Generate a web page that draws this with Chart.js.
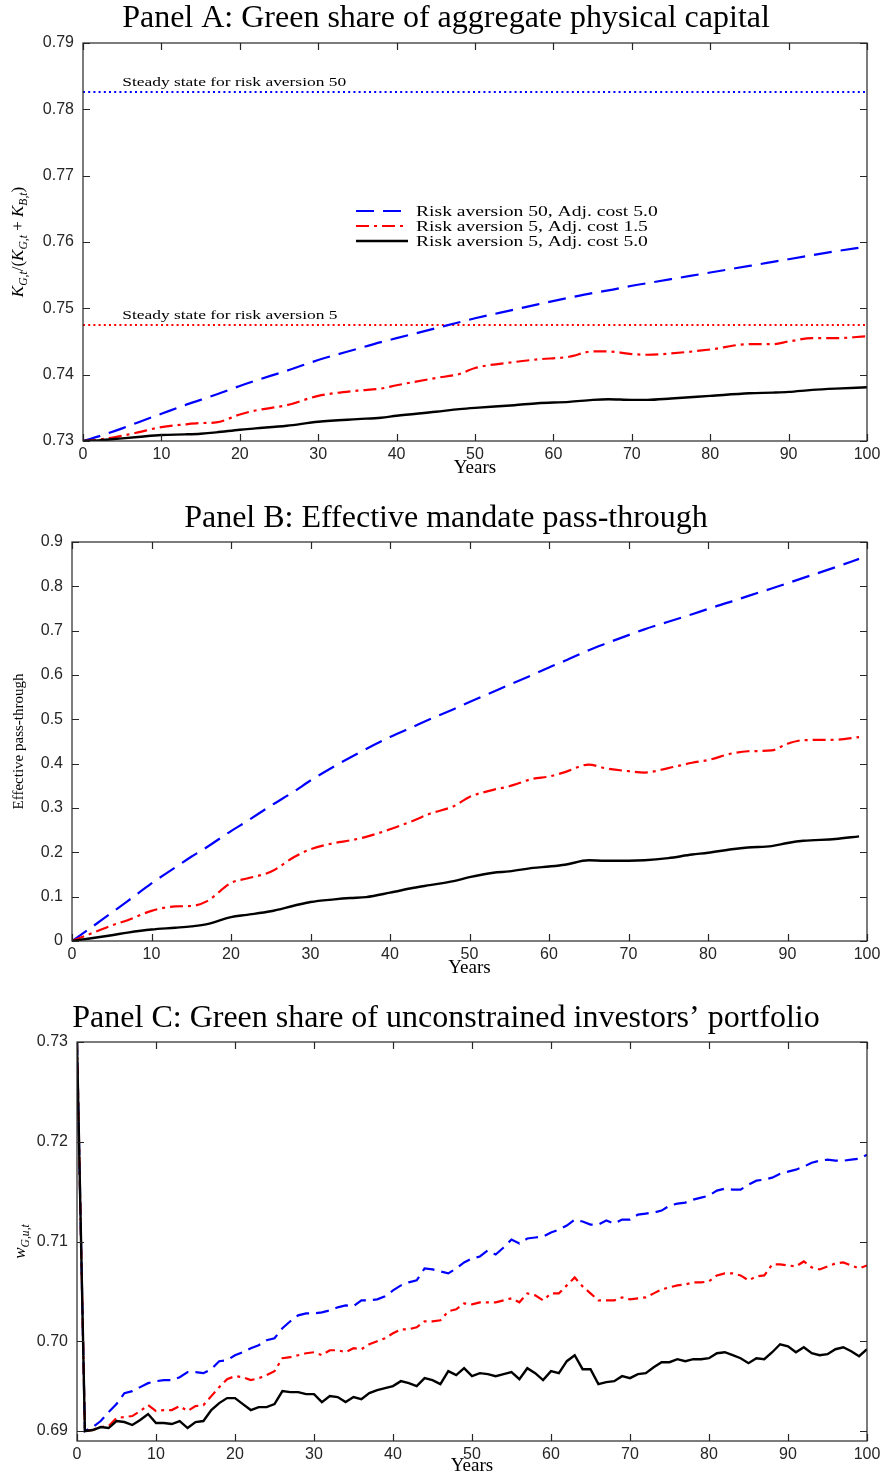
<!DOCTYPE html>
<html>
<head>
<meta charset="utf-8">
<script src="https://cdn.jsdelivr.net/npm/chart.js@4.4.0/dist/chart.umd.min.js"></script>
<style>
  body { margin: 0; background: #fff; }
  .panel { position: absolute; left: 0; width: 883px; }
</style>
</head>
<body>
<div class="panel" style="top:0;height:490px"><canvas id="chartA"></canvas></div>
<div class="panel" style="top:490px;height:500px"><canvas id="chartB"></canvas></div>
<div class="panel" style="top:990px;height:486px"><canvas id="chartC"></canvas></div>
<script>
// Series names (same three calibrations in every panel)
const seriesLabels = [
  'Risk aversion 50, Adj. cost 5.0',
  'Risk aversion 5, Adj. cost 1.5',
  'Risk aversion 5, Adj. cost 5.0'
];
const yearTicks = [0, 10, 20, 30, 40, 50, 60, 70, 80, 90, 100];

// Panel A: green share of aggregate physical capital
const yearsA = [0, 2, 5, 7, 10, 13, 15, 17, 20, 22, 26, 30, 35, 38, 40, 45, 48, 50, 55, 58, 62, 65, 67, 70, 72, 75, 80, 85, 88, 90, 93, 96, 100];
const capitalRA50 = [0.73, 0.7307, 0.7319, 0.7328, 0.7341, 0.7354, 0.7362, 0.737, 0.7383, 0.7391, 0.7406, 0.7422, 0.7439, 0.7449, 0.7455, 0.747, 0.7479, 0.7485, 0.7498, 0.7506, 0.7516, 0.7523, 0.7527, 0.7534, 0.7538, 0.7544, 0.7554, 0.7564, 0.757, 0.7574, 0.758, 0.7586, 0.7593];
const capitalCost15 = [0.73, 0.7302, 0.7308, 0.7313, 0.7321, 0.7325, 0.7327, 0.7328, 0.734, 0.7346, 0.7354, 0.7368, 0.7376, 0.7379, 0.7384, 0.7395, 0.7401, 0.741, 0.7419, 0.7423, 0.7427, 0.7435, 0.7435, 0.7431, 0.743, 0.7432, 0.7438, 0.7446, 0.7446, 0.745, 0.7455, 0.7455, 0.7458];
const capitalCost5 = [0.73, 0.7301, 0.7304, 0.7306, 0.7309, 0.731, 0.7311, 0.7313, 0.7317, 0.7319, 0.7323, 0.7329, 0.7333, 0.7335, 0.7338, 0.7344, 0.7348, 0.735, 0.7354, 0.7357, 0.7359, 0.7362, 0.7363, 0.7362, 0.7362, 0.7364, 0.7368, 0.7372, 0.7373, 0.7374, 0.7377, 0.7379, 0.7381];
const steadyRA50 = 0.7826;
const steadyRA5 = 0.7475;
const ticksA = [0.73, 0.74, 0.75, 0.76, 0.77, 0.78, 0.79];

// Panel B: effective mandate pass-through
const yearsB = [0, 2, 5, 7, 10, 13, 15, 17, 20, 22, 25, 28, 30, 33, 35, 37, 40, 43, 45, 48, 50, 53, 55, 58, 60, 62, 65, 67, 70, 72, 75, 78, 80, 83, 85, 88, 90, 92, 96, 99];
const passRA50 = [0, 0.025, 0.064, 0.09, 0.13, 0.166, 0.19, 0.212, 0.248, 0.27, 0.305, 0.338, 0.362, 0.394, 0.414, 0.433, 0.46, 0.484, 0.5, 0.523, 0.539, 0.562, 0.578, 0.601, 0.617, 0.632, 0.656, 0.67, 0.69, 0.703, 0.72, 0.737, 0.749, 0.766, 0.778, 0.795, 0.807, 0.819, 0.843, 0.862];
const passCost15 = [0, 0.014, 0.035, 0.047, 0.068, 0.078, 0.079, 0.09, 0.131, 0.141, 0.156, 0.19, 0.207, 0.221, 0.227, 0.235, 0.252, 0.272, 0.287, 0.304, 0.325, 0.341, 0.349, 0.366, 0.371, 0.381, 0.398, 0.39, 0.383, 0.38, 0.39, 0.402, 0.408, 0.423, 0.428, 0.43, 0.445, 0.453, 0.454, 0.46];
const passCost5 = [0, 0.005, 0.013, 0.019, 0.026, 0.03, 0.033, 0.038, 0.054, 0.059, 0.067, 0.08, 0.088, 0.094, 0.097, 0.099, 0.109, 0.12, 0.126, 0.135, 0.144, 0.154, 0.157, 0.165, 0.168, 0.172, 0.182, 0.181, 0.181, 0.182, 0.187, 0.195, 0.199, 0.207, 0.211, 0.214, 0.221, 0.226, 0.23, 0.236];
const ticksB = [0, 0.1, 0.2, 0.3, 0.4, 0.5, 0.6, 0.7, 0.8, 0.9];

// Panel C: green share of unconstrained investors' portfolio, one value per year
const yearsC = Array.from({ length: 101 }, (_, i) => i);
const portfolioRA50 = [0.73,
  0.6910, 0.6914, 0.6920, 0.6929, 0.6937, 0.6948, 0.6950, 0.6954, 0.6958, 0.6960,
  0.6961, 0.6961, 0.6964, 0.6969, 0.6969, 0.6968, 0.6972, 0.6980, 0.6981, 0.6986,
  0.6989, 0.6993, 0.6996, 0.7001, 0.7003, 0.7013, 0.7020, 0.7026, 0.7028, 0.7028,
  0.7029, 0.7031, 0.7034, 0.7036, 0.7035, 0.7041, 0.7041, 0.7042, 0.7045, 0.7051,
  0.7056, 0.7059, 0.7061, 0.7073, 0.7072, 0.7070, 0.7068, 0.7073, 0.7079, 0.7083,
  0.7085, 0.7091, 0.7087, 0.7094, 0.7102, 0.7098, 0.7103, 0.7104, 0.7105, 0.7109,
  0.7112, 0.7116, 0.7122, 0.7120, 0.7117, 0.7117, 0.7121, 0.7118, 0.7122, 0.7122,
  0.7127, 0.7128, 0.7129, 0.7131, 0.7136, 0.7138, 0.7139, 0.7142, 0.7144, 0.7146,
  0.7151, 0.7153, 0.7152, 0.7152, 0.7157, 0.7161, 0.7162, 0.7164, 0.7168, 0.7170,
  0.7172, 0.7175, 0.7179, 0.7181, 0.7182, 0.7181, 0.7181, 0.7182, 0.7183, 0.7187];
const portfolioCost15 = [0.73,
  0.6910, 0.6911, 0.6914, 0.6915, 0.6923, 0.6924, 0.6925, 0.6930, 0.6936, 0.6930,
  0.6931, 0.6931, 0.6935, 0.6930, 0.6935, 0.6936, 0.6945, 0.6954, 0.6962, 0.6965,
  0.6964, 0.6961, 0.6963, 0.6966, 0.6970, 0.6983, 0.6984, 0.6986, 0.6988, 0.6989,
  0.6986, 0.6991, 0.6991, 0.6989, 0.6993, 0.6992, 0.6997, 0.7000, 0.7003, 0.7008,
  0.7012, 0.7012, 0.7014, 0.7020, 0.7020, 0.7021, 0.7030, 0.7032, 0.7038, 0.7037,
  0.7039, 0.7039, 0.7039, 0.7041, 0.7043, 0.7039, 0.7048, 0.7046, 0.7041, 0.7048,
  0.7048, 0.7056, 0.7064, 0.7055, 0.7048, 0.7041, 0.7041, 0.7041, 0.7044, 0.7042,
  0.7043, 0.7044, 0.7048, 0.7052, 0.7054, 0.7056, 0.7057, 0.7059, 0.7059, 0.7060,
  0.7066, 0.7068, 0.7068, 0.7066, 0.7061, 0.7065, 0.7066, 0.7077, 0.7077, 0.7076,
  0.7075, 0.7080, 0.7074, 0.7072, 0.7075, 0.7078, 0.7079, 0.7076, 0.7073, 0.7076];
const portfolioCost5 = [0.73,
  0.6910, 0.6911, 0.6914, 0.6913, 0.6920, 0.6919, 0.6916, 0.6921, 0.6927, 0.6918,
  0.6918, 0.6917, 0.6920, 0.6913, 0.6919, 0.6920, 0.6931, 0.6938, 0.6943, 0.6943,
  0.6937, 0.6931, 0.6934, 0.6934, 0.6937, 0.6950, 0.6949, 0.6949, 0.6947, 0.6947,
  0.6939, 0.6945, 0.6944, 0.6939, 0.6944, 0.6942, 0.6948, 0.6951, 0.6953, 0.6955,
  0.6960, 0.6958, 0.6955, 0.6963, 0.6961, 0.6957, 0.6970, 0.6966, 0.6973, 0.6965,
  0.6968, 0.6967, 0.6965, 0.6967, 0.6969, 0.6962, 0.6973, 0.6968, 0.6961, 0.6970,
  0.6968, 0.6980, 0.6986, 0.6972, 0.6972, 0.6957, 0.6959, 0.6960, 0.6965, 0.6963,
  0.6967, 0.6968, 0.6974, 0.6979, 0.6979, 0.6982, 0.6980, 0.6982, 0.6982, 0.6983,
  0.6988, 0.6989, 0.6986, 0.6983, 0.6978, 0.6983, 0.6982, 0.6989, 0.6997, 0.6995,
  0.6989, 0.6994, 0.6988, 0.6986, 0.6987, 0.6992, 0.6994, 0.6990, 0.6985, 0.6992];
const ticksC = [0.691, 0.70, 0.71, 0.72, 0.73];

const serif = '"Liberation Serif", "Times New Roman", serif';
const sans = '"Liberation Sans", Arial, Helvetica, sans-serif';
const axisColor = '#262626';

// line look of each calibration
function styleRA50(dash) { return { borderColor: '#0000ff', borderWidth: 2.2, borderDash: dash }; }
function styleCost15(dash) { return { borderColor: '#ff0000', borderWidth: 2.2, borderDash: dash }; }
function styleCost5() { return { borderColor: '#000000', borderWidth: 2.4, borderDash: [] }; }

function series(xs, ys, label, style, order, smooth) {
  return Object.assign({
    label: label,
    data: xs.map((x, i) => ({ x: x, y: ys[i] })),
    pointRadius: 0,
    fill: false,
    order: order,
    cubicInterpolationMode: smooth ? 'monotone' : 'default',
    tension: 0
  }, style);
}

function flatLine(value, color) {
  return {
    label: 'steady',
    data: [{ x: 0, y: value }, { x: 100, y: value }],
    borderColor: color, borderWidth: 2, borderDash: [2, 3.2],
    pointRadius: 0, fill: false, order: 5
  };
}

function drawText(ctx, text, x, y, font, stretch) {
  ctx.save();
  ctx.font = font;
  ctx.fillStyle = '#000';
  ctx.textAlign = 'left';
  ctx.textBaseline = 'alphabetic';
  ctx.translate(x, y);
  ctx.scale(stretch || 1, 1);
  ctx.fillText(text, 0, 0);
  ctx.restore();
}

// vertical axis label with italic symbols and subscripts
function drawRotatedMath(ctx, parts, cx, cy, size) {
  const fontFor = p => p.sub ? 'italic ' + (size * 0.68).toFixed(1) + 'px ' + serif
    : (p.it ? 'italic ' : '') + size + 'px ' + serif;
  ctx.save();
  ctx.translate(cx, cy);
  ctx.rotate(-Math.PI / 2);
  ctx.fillStyle = '#000';
  ctx.textBaseline = 'alphabetic';
  let total = 0;
  parts.forEach(p => { ctx.font = fontFor(p); total += ctx.measureText(p.t).width; });
  let x = -total / 2;
  const base = size * 0.32;
  parts.forEach(p => {
    ctx.font = fontFor(p);
    ctx.fillText(p.t, x, p.sub ? base + size * 0.22 : base);
    x += ctx.measureText(p.t).width;
  });
  ctx.restore();
}

// labels, notes and legend that sit on top of the plot
function overlay(p) {
  return {
    id: 'overlay',
    afterDatasetsDraw(chart) {
      const { ctx, chartArea: a, scales: { x, y } } = chart;
      drawRotatedMath(ctx, p.yLabel, p.yLabelX, (a.top + a.bottom) / 2, p.yLabelSize);
      (p.notes || []).forEach(n => {
        drawText(ctx, n.text, x.getPixelForValue(n.x), y.getPixelForValue(n.y) - n.lift, '13px ' + serif, n.stretch);
      });
      if (p.legend) {
        const lg = p.legend;
        const items = chart.data.datasets.filter(d => seriesLabels.includes(d.label))
          .sort((d1, d2) => seriesLabels.indexOf(d1.label) - seriesLabels.indexOf(d2.label));
        items.forEach((d, i) => {
          const ly = a.top + lg.dy + i * lg.row;
          const lx = a.left + lg.dx;
          ctx.save();
          ctx.strokeStyle = d.borderColor;
          ctx.lineWidth = d.borderWidth;
          ctx.setLineDash(d.borderDash);
          ctx.beginPath();
          ctx.moveTo(lx, ly);
          ctx.lineTo(lx + lg.sample, ly);
          ctx.stroke();
          ctx.restore();
          drawText(ctx, d.label, lx + lg.sample + 8, ly + 4.5, '14px ' + serif, lg.stretch);
        });
      }
    }
  };
}

// closed box with inward tick marks on all four sides
const boxAxes = {
  id: 'boxAxes',
  afterDraw(chart) {
    const { ctx, chartArea: a, scales: { x, y } } = chart;
    const len = 7;
    ctx.save();
    ctx.strokeStyle = axisColor;
    ctx.lineWidth = 1.2;
    ctx.setLineDash([]);
    ctx.strokeRect(a.left, a.top, a.right - a.left, a.bottom - a.top);
    ctx.beginPath();
    x.ticks.forEach(t => {
      const px = Math.round(x.getPixelForValue(t.value)) + 0.5;
      ctx.moveTo(px, a.bottom); ctx.lineTo(px, a.bottom - len);
      ctx.moveTo(px, a.top); ctx.lineTo(px, a.top + len);
    });
    y.ticks.forEach(t => {
      const py = Math.round(y.getPixelForValue(t.value)) + 0.5;
      ctx.moveTo(a.left, py); ctx.lineTo(a.left + len, py);
      ctx.moveTo(a.right, py); ctx.lineTo(a.right - len, py);
    });
    ctx.stroke();
    ctx.restore();
  }
};

function buildPanel(id, p) {
  return new Chart(document.getElementById(id), {
    type: 'line',
    data: { datasets: p.datasets },
    options: {
      responsive: true,
      maintainAspectRatio: false,
      animation: false,
      devicePixelRatio: 1,
      layout: { padding: { left: 25, right: 16, top: 0, bottom: 0 } },
      plugins: {
        legend: { display: false },
        tooltip: { enabled: false },
        title: {
          display: true, text: p.title, color: '#000',
          font: { family: serif, size: 32, weight: 'normal', lineHeight: 1 },
          padding: p.titlePad
        }
      },
      scales: {
        x: {
          type: 'linear', min: 0, max: 100,
          grid: { display: false, drawTicks: false },
          border: { display: false },
          afterBuildTicks: s => { s.ticks = yearTicks.map(v => ({ value: v })); },
          afterFit: s => { s.height = p.xHeight; s.paddingLeft = 0; s.paddingRight = 0; },
          ticks: {
            color: axisColor, font: { family: sans, size: 16 }, padding: 4,
            maxRotation: 0, autoSkip: false, callback: v => String(v)
          },
          title: {
            display: true, text: 'Years', color: '#000',
            font: { family: serif, size: 19, lineHeight: 1 },
            padding: { top: 0, bottom: p.yearsPad }
          }
        },
        y: {
          type: 'linear', min: p.yMin, max: p.yMax,
          grid: { display: false, drawTicks: false },
          border: { display: false },
          afterBuildTicks: s => { s.ticks = p.yTicks.map(v => ({ value: v })); },
          afterFit: s => { s.width = p.yWidth; s.paddingTop = 0; s.paddingBottom = 0; },
          ticks: {
            color: axisColor, font: { family: sans, size: 16 }, padding: 9,
            autoSkip: false, callback: p.yFormat
          }
        }
      }
    },
    plugins: [overlay(p), boxAxes]
  });
}

buildPanel('chartA', {
  title: 'Panel A: Green share of aggregate physical capital',
  titlePad: { top: 3, bottom: 8 },
  xHeight: 49, yearsPad: 12.5, yWidth: 58,
  yMin: 0.73, yMax: 0.79, yTicks: ticksA, yFormat: v => v.toFixed(2),
  yLabel: [{ t: 'K', it: 1 }, { t: 'G,t', sub: 1 }, { t: '/(' }, { t: 'K', it: 1 }, { t: 'G,t', sub: 1 },
           { t: ' + ' }, { t: 'K', it: 1 }, { t: 'B,t', sub: 1 }, { t: ')' }],
  yLabelX: 18, yLabelSize: 17,
  notes: [
    { text: 'Steady state for risk aversion 50', x: 5, y: steadyRA50, lift: 6, stretch: 1.34 },
    { text: 'Steady state for risk aversion 5', x: 5, y: steadyRA5, lift: 6, stretch: 1.34 }
  ],
  legend: { dx: 273, dy: 168, row: 15, sample: 52, stretch: 1.4 },
  datasets: [
    flatLine(steadyRA50, '#0000ff'),
    flatLine(steadyRA5, '#ff0000'),
    series(yearsA, capitalRA50, seriesLabels[0], styleRA50([18, 9]), 3, true),
    series(yearsA, capitalCost15, seriesLabels[1], styleCost15([13, 5, 3, 5]), 2, true),
    series(yearsA, capitalCost5, seriesLabels[2], styleCost5(), 1, true)
  ]
});

buildPanel('chartB', {
  title: 'Panel B: Effective mandate pass-through',
  titlePad: { top: 13, bottom: 7 },
  xHeight: 49, yearsPad: 12.5, yWidth: 47,
  yMin: 0, yMax: 0.9, yTicks: ticksB, yFormat: v => String(Number(v.toFixed(1))),
  yLabel: [{ t: 'Effective pass-through' }],
  yLabelX: 18, yLabelSize: 15,
  datasets: [
    series(yearsB, passRA50, seriesLabels[0], styleRA50([18, 9]), 3, true),
    series(yearsB, passCost15, seriesLabels[1], styleCost15([13, 5, 3, 5]), 2, true),
    series(yearsB, passCost5, seriesLabels[2], styleCost5(), 1, true)
  ]
});

buildPanel('chartC', {
  title: 'Panel C: Green share of unconstrained investors\u2019 portfolio',
  titlePad: { top: 13, bottom: 7 },
  xHeight: 35, yearsPad: 0, yWidth: 52,
  yMin: 0.69, yMax: 0.73, yTicks: ticksC, yFormat: v => v.toFixed(2),
  yLabel: [{ t: 'w', it: 1 }, { t: 'G,u,t', sub: 1 }],
  yLabelX: 20, yLabelSize: 17,
  datasets: [
    series(yearsC, portfolioRA50, seriesLabels[0], styleRA50([13, 7]), 3, false),
    series(yearsC, portfolioCost15, seriesLabels[1], styleCost15([10, 5, 3, 5]), 2, false),
    series(yearsC, portfolioCost5, seriesLabels[2], styleCost5(), 1, false)
  ]
});
</script>
</body>
</html>
